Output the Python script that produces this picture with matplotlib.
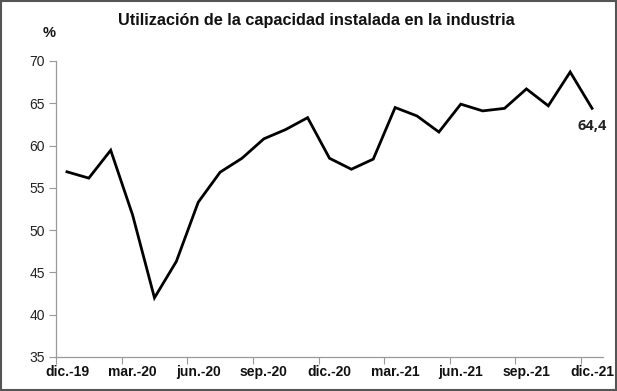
import matplotlib
matplotlib.use("Agg")
import matplotlib.pyplot as plt
from matplotlib.patches import Rectangle

months = ["dic.-19", "ene.-20", "feb.-20", "mar.-20", "abr.-20", "may.-20", "jun.-20",
          "jul.-20", "ago.-20", "sep.-20", "oct.-20", "nov.-20", "dic.-20", "ene.-21",
          "feb.-21", "mar.-21", "abr.-21", "may.-21", "jun.-21", "jul.-21", "ago.-21",
          "sep.-21", "oct.-21", "nov.-21", "dic.-21"]
values = [56.9, 56.15, 59.45, 51.8, 42.0, 46.3, 53.3, 56.85, 58.5, 60.8, 61.9, 63.3,
          58.5, 57.2, 58.4, 64.5, 63.5, 61.6, 64.9, 64.1, 64.4, 66.7, 64.7, 68.7, 64.4]
yticks = [35, 40, 45, 50, 55, 60, 65, 70]
title = "Utilización de la capacidad instalada en la industria"
last_label = "64,4"

plt.rcParams['font.family'] = ['Liberation Sans', 'DejaVu Sans']

fig = plt.figure(figsize=(6.17, 3.91), dpi=100)
ax = fig.add_axes([56/617, 1-357/391, (603-56)/617, (357-61)/391])

x = list(range(len(values)))
ax.plot(x, values, color='black', lw=2.0, solid_joinstyle='miter')

ax.set_xlim(-0.5, len(values) - 0.5)
ax.set_ylim(35, 70)
ax.set_yticks(yticks)
ax.set_yticklabels([str(v) for v in yticks], fontsize=10, color='#222222')

major = [i - 0.5 for i in range(0, len(values), 3)]
ax.set_xticks(major)
ax.set_xticklabels([])
ax.set_xticks(list(range(0, len(values), 3)), minor=True)
ax.set_xticklabels([months[i] for i in range(0, len(values), 3)], minor=True,
                   fontsize=10, fontweight='bold', color='#111111')
ax.tick_params(axis='x', which='minor', length=0, pad=6)
ax.tick_params(axis='x', which='major', length=5, color='#999999')
ax.tick_params(axis='y', length=5, color='#999999', pad=3)

for s in ['top', 'right']:
    ax.spines[s].set_visible(False)
for s in ['left', 'bottom']:
    ax.spines[s].set_color('#999999')
    ax.spines[s].set_linewidth(0.9)

ax.annotate(last_label, (x[-1], values[-1]), xytext=(0, -13), textcoords='offset points',
            ha='center', va='center', fontsize=10.5, fontweight='bold', color='#222222',
            family=['Open Sans', 'DejaVu Sans'])

fig.text(0.5 + 8/617, 1-20/391, title, ha='center', va='center', fontsize=11.7,
         fontweight='bold', color='#111111')
fig.text(49/617, 1-33/391, "%", ha='center', va='center', fontsize=10.5,
         fontweight='bold', color='#111111')

fig.patches.append(Rectangle((0.001, 0.002), 0.997, 0.995, transform=fig.transFigure,
                             fill=False, edgecolor='#555555', lw=1.5))

fig.savefig("out.png", dpi=100)
